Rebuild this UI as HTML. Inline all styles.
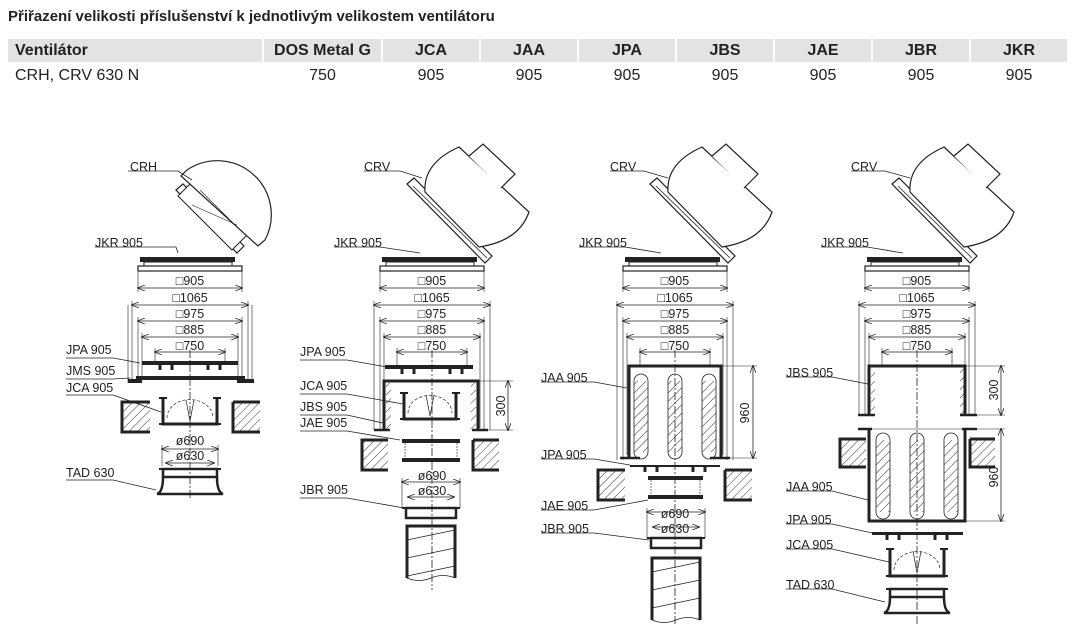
<!DOCTYPE html>
<html><head><meta charset="utf-8"><style>
html,body{margin:0;padding:0;background:#fff;width:1074px;height:633px;overflow:hidden}
body{font-family:"Liberation Sans",Arial,sans-serif;position:relative}
.t{position:absolute;left:8px;top:8px;font-size:15px;font-weight:bold;color:#222}
.h{position:absolute;top:39px;height:23px;background:#e3e3e3;font-size:16px;font-weight:bold;color:#222;line-height:23px;text-align:center}
.d{position:absolute;top:65px;height:22px;font-size:16px;color:#222;line-height:22px;text-align:center}
svg{position:absolute;left:0;top:0}
svg text{font-family:"Liberation Sans","DejaVu Sans",sans-serif;font-size:12.5px;fill:#222}
</style></head><body>
<div class="t">Přiřazení velikosti příslušenství k jednotlivým velikostem ventilátoru</div>
<div class="h" style="left:8px;width:254px;text-align:left;padding-left:7px;box-sizing:border-box">Ventilátor</div>
<div class="h" style="left:264px;width:117px">DOS Metal G</div>
<div class="h" style="left:383px;width:96px">JCA</div>
<div class="h" style="left:481px;width:96px">JAA</div>
<div class="h" style="left:579px;width:96px">JPA</div>
<div class="h" style="left:677px;width:96px">JBS</div>
<div class="h" style="left:775px;width:96px">JAE</div>
<div class="h" style="left:873px;width:96px">JBR</div>
<div class="h" style="left:971px;width:96px">JKR</div>
<div class="d" style="left:15px;width:240px;text-align:left">CRH, CRV 630 N</div>
<div class="d" style="left:264px;width:117px">750</div>
<div class="d" style="left:383px;width:96px">905</div>
<div class="d" style="left:481px;width:96px">905</div>
<div class="d" style="left:579px;width:96px">905</div>
<div class="d" style="left:677px;width:96px">905</div>
<div class="d" style="left:775px;width:96px">905</div>
<div class="d" style="left:873px;width:96px">905</div>
<div class="d" style="left:971px;width:96px">905</div>
<svg id="s" width="1074" height="633" xmlns="http://www.w3.org/2000/svg">
<defs>
<pattern id="hp" width="6" height="6" patternUnits="userSpaceOnUse" patternTransform="rotate(45)"><line x1="0" y1="0" x2="0" y2="6" stroke="#333" stroke-width="1"/></pattern>
<marker id="ar" markerWidth="8" markerHeight="6" refX="7" refY="3" orient="auto-start-reverse" markerUnits="userSpaceOnUse"><path d="M0,0 L8,3 L0,6" fill="none" stroke="#222" stroke-width="0.8"/></marker>
</defs>
<g id="drawg"></g>
<text x="130" y="171">CRH</text><text x="95" y="247">JKR 905</text>
<text x="66" y="354">JPA 905</text><text x="66" y="375">JMS 905</text><text x="66" y="392">JCA 905</text><text x="66" y="477">TAD 630</text>
<text x="364" y="171">CRV</text><text x="334" y="247">JKR 905</text>
<text x="300" y="356">JPA 905</text><text x="300" y="390">JCA 905</text><text x="300" y="411">JBS 905</text><text x="300" y="427">JAE 905</text><text x="300" y="494">JBR 905</text>
<text x="610" y="171">CRV</text><text x="579" y="247">JKR 905</text>
<text x="541" y="382">JAA 905</text><text x="541" y="459">JPA 905</text><text x="541" y="510">JAE 905</text><text x="541" y="533">JBR 905</text>
<text x="851" y="171">CRV</text><text x="821" y="247">JKR 905</text>
<text x="786" y="377">JBS 905</text><text x="786" y="491">JAA 905</text><text x="786" y="524">JPA 905</text><text x="786" y="549">JCA 905</text><text x="786" y="589">TAD 630</text>
<g text-anchor="middle">
<text x="190" y="285">□905</text><text x="190" y="302">□1065</text><text x="190" y="318">□975</text><text x="190" y="334">□885</text><text x="190" y="350">□750</text>
<text x="190" y="445">ø690</text><text x="190" y="460">ø630</text>
<text x="432" y="285">□905</text><text x="432" y="302">□1065</text><text x="432" y="318">□975</text><text x="432" y="334">□885</text><text x="432" y="350">□750</text>
<text x="432" y="480">ø690</text><text x="432" y="495">ø630</text>
<text x="675" y="285">□905</text><text x="675" y="302">□1065</text><text x="675" y="318">□975</text><text x="675" y="334">□885</text><text x="675" y="350">□750</text>
<text x="675" y="518">ø690</text><text x="675" y="533">ø630</text>
<text x="917" y="285">□905</text><text x="917" y="302">□1065</text><text x="917" y="318">□975</text><text x="917" y="334">□885</text><text x="917" y="350">□750</text>
</g>
<text transform="translate(505,406) rotate(-90)" text-anchor="middle">300</text>
<text transform="translate(749,413) rotate(-90)" text-anchor="middle">960</text>
<text transform="translate(998,390) rotate(-90)" text-anchor="middle">300</text>
<text transform="translate(998,477) rotate(-90)" text-anchor="middle">960</text>
</svg>
<script>
(function(){
var G=document.getElementById('drawg'),NS='http://www.w3.org/2000/svg';
function el(t,a){var e=document.createElementNS(NS,t);for(var k in a)e.setAttribute(k,a[k]);G.appendChild(e);return e;}
function L(x1,y1,x2,y2,w,extra){var a={x1:x1,y1:y1,x2:x2,y2:y2,stroke:'#222','stroke-width':w||0.8};for(var k in extra)a[k]=extra[k];return el('line',a);}
function R(x,y,w,h,sw,fill){return el('rect',{x:x,y:y,width:w,height:h,fill:fill||'none',stroke:sw?'#222':'none','stroke-width':sw||0});}
function P(d,sw,fill){return el('path',{d:d,fill:fill||'none',stroke:'#222','stroke-width':sw||1});}
function D(x1,x2,y){L(x1,y,x2,y,0.8,{'marker-start':'url(#ar)','marker-end':'url(#ar)'});}
function DV(x,y1,y2){L(x,y1,x,y2,0.8,{'marker-start':'url(#ar)','marker-end':'url(#ar)'});}
function C(x,y1,y2){L(x,y1,x,y2,0.8,{'stroke-dasharray':'8,2,2,2'});}
function lead(x1,y1,x2,y2,x0){L(x0,y1,x1,y1,0.8);L(x1,y1,x2,y2,0.8);}
function hatch(x,y,w,h){R(x,y,w,h,0,'url(#hp)');P('M'+(x+w)+','+y+' L'+x+','+y+' L'+x+','+(y+h)+' L'+(x+w)+','+(y+h),3);}
function hatchR(x,y,w,h){R(x,y,w,h,0,'url(#hp)');P('M'+x+','+y+' L'+(x+w)+','+y+' M'+x+','+y+' L'+x+','+(y+h)+' L'+(x+w)+','+(y+h),3);}
function crv(dx){
 P('M'+(650+dx)+',184 L'+(657+dx)+',178 L'+(735+dx)+',256 L'+(728+dx)+',263 Z',1.2,'#fff');
 L(656+dx,186,730+dx,258,0.8);
 P('M'+(668+dx)+',192 Q'+(666+dx)+',163 '+(702+dx)+',147 L'+(772+dx)+',212 Q'+(762+dx)+',241 '+(722+dx)+',247 Z',1.2,'#fff');
 P('M'+(712+dx)+',156 L'+(726+dx)+',144 L'+(758+dx)+',174 L'+(744+dx)+',188',1.2,'#fff');
}
function jkrTop(cx){
 R(cx-50,257,95,5,0,'#222');R(cx-46,262,88,4,1);R(cx-52,266,104,5,1.2);
 L(cx-52,271,cx-52,292,0.6);L(cx+52,271,cx+52,292,0.6);D(cx-52,cx+52,288);
}
function dims(cx,ybot){
 var ws=[58,52,48,35],ys=[305,321,337,352];
 for(var i=0;i<4;i++){D(cx-ws[i],cx+ws[i],ys[i]);L(cx-ws[i],ys[i]-4,cx-ws[i],ybot[i],0.6);L(cx+ws[i],ys[i]-4,cx+ws[i],ybot[i],0.6);}
}
function teeth(cx,y){[-30,-18,18,30].forEach(function(o){R(cx+o-1.5,y,3,5,0,'#222');});}
function jca(x1,x2,y1,y2){
 P('M'+x1+','+y1+' L'+x1+','+y2+' L'+x2+','+y2+' L'+x2+','+y1,3);
 L(x1-4,y1,x1+4,y1,2);L(x2-4,y1,x2+4,y1,2);L(x1-4,y2,x1+4,y2,2);L(x2-4,y2,x2+4,y2,2);
 var cx=(x1+x2)/2,r=(x2-x1)/2-4;
 P('M'+(cx-r)+','+(y2-6)+' A'+r+','+(r*0.8)+' 0 0 1 '+(cx+r)+','+(y2-6),0.7).setAttribute('stroke-dasharray','3,2');
 P('M'+(cx-4)+','+(y1+2)+' L'+cx+','+(y2-3)+' L'+(cx+4)+','+(y1+2),0.7);
}
function tad(x1,x2,y1,y2){
 R(x1,y1,x2-x1,8,2.5);L(x1-4,y1,x1+4,y1,2);L(x2-4,y1,x2+4,y1,2);
 P('M'+x1+','+(y1+8)+' Q'+x1+','+(y2-2)+' '+(x1-6)+','+y2+' L'+(x2+6)+','+y2+' Q'+x2+','+(y2-2)+' '+x2+','+(y1+8),2.5);
}
function jbr(x1,x2,y){R(x1,y,x2-x1,10,2.5);L(x1-4,y,x2+4,y,2);D(x1-4,x2+4,y-26);D(x1+2,x2-2,y-11);L(x1-4,y-30,x1-4,y,0.6);L(x2+4,y-30,x2+4,y,0.6);}
function duct(x1,x2,y1,y2){
 P('M'+x1+','+y2+' L'+x1+','+y1+' L'+x2+','+y1+' L'+x2+','+y2,3);
 P('M'+x1+','+y2+' q'+((x2-x1)/4)+',5 '+((x2-x1)/2)+',0 t'+((x2-x1)/2)+',0',0.8);
 for(var k=0;k<3;k++)L(x1,y1+14+k*18,x2,y1+4+k*18,0.8);
}
function jae(x1,x2,y1,y2){R(x1,y1,x2-x1,4,0,'#222');R(x1,y2,x2-x1,4,0,'#222');L(x1+3,y1+4,x1+3,y2,0.6,{'stroke-dasharray':'2,1'});L(x2-3,y1+4,x2-3,y2,0.6,{'stroke-dasharray':'2,1'});}
function slots(cx,y1,y2){[-34,0,34].forEach(function(o){var x=cx+o-7;R(x,y1+6,14,y2-y1-12,0,'url(#hp)');P('M'+x+','+(y1+6)+' L'+x+','+(y2-6)+' A7,7 0 0 0 '+(x+14)+','+(y2-6)+' L'+(x+14)+','+(y1+6)+' A7,7 0 0 0 '+x+','+(y1+6)+'Z',0.8);});}

// Diagram 1
P('M176,190 L183,184 L244,246 L237,253 Z',1.2,'#fff');
P('M178,196 L198,176 L252,230 L232,250 Z',1,'#fff');
P('M187,170 A54,54 0 0 1 265,240 L258,246 L181,176 Z',1.2,'#fff');
L(192,205,237,225,0.6);L(200,190,240,230,0.6);
lead(178,171,192,180,128);lead(176,247,178,253,95);
jkrTop(190);C(190,350,500);
dims(190,[382,382,377,362]);
R(142,361,96,4,0,'#222');teeth(190,365);
R(136,376,109,4,0,'#222');R(128,379,14,4,0,'#222');R(237,379,17,4,0,'#222');
L(128,305,128,383,0.6);L(252,305,252,383,0.6);
lead(113,358,140,363,66);lead(113,379,130,378,66);lead(113,395,161,412,66);
jca(163,217,398,424);
hatch(122,402,28,30);hatchR(233,402,27,30);
D(162,218,449);D(166,214,463);L(162,445,162,466,0.6);L(218,445,218,466,0.6);
tad(163,217,469,494);lead(113,480,156,490,66);

// Diagram 2
crv(-243);lead(400,171,422,178,364);lead(380,247,420,253,334);
jkrTop(432);C(432,350,590);
dims(432,[430,430,428,367]);
R(385,365,88,4,0,'#222');teeth(432,369);
P('M384,430 L384,381 L478,381 L478,430',3);R(386,383,5,46,0,'url(#hp)');R(471,383,5,46,0,'url(#hp)');
L(374,430,390,430,2.5);L(472,430,488,430,2.5);
L(478,381,513,381,0.6);DV(508,381,430);L(478,430,513,430,0.6);
jca(404,456,393,419);
lead(347,360,387,367,300);lead(347,394,403,404,300);lead(347,415,383,423,300);lead(347,431,400,440,300);
hatch(362,440,26,30);hatchR(473,440,26,30);
jae(402,460,439,458);
jbr(406,456,508);lead(347,498,404,508,300);
duct(407,455,526,578);

// Diagram 3
crv(0);lead(644,171,668,178,610);lead(625,247,661,253,579);
jkrTop(675);C(675,350,625);
dims(675,[460,460,455,366]);
P('M629,458 L629,366 L721,366 L721,458',3);L(620,458,640,458,2.5);L(710,458,730,458,2.5);
slots(675,375,458);
L(721,366,757,366,0.6);DV(753,366,458);L(721,458,757,458,0.6);
lead(594,382,627,388,541);
R(630,465,90,2,0,'#222');teeth(675,467);lead(594,459,630,465,541);
hatch(598,470,27,30);hatchR(725,470,27,30);
jae(648,703,476,495);lead(594,510,648,500,541);
jbr(651,701,538);lead(594,533,649,540,541);
duct(652,700,558,620);

// Diagram 4
crv(242);lead(885,171,910,178,851);lead(867,247,903,253,821);
jkrTop(917);C(917,350,625);
dims(917,[415,415,415,366]);
P('M869,415 L869,366 L965,366 L965,415',3);R(871,368,4,46,0,'url(#hp)');R(960,368,4,46,0,'url(#hp)');
L(858,415,875,415,2.5);L(960,415,977,415,2.5);
L(965,366,1005,366,0.6);DV(1001,366,415);L(965,415,1005,415,0.6);
lead(832,377,868,384,786);
P('M869,429 L869,521 L965,521 L965,429',3);L(858,429,872,429,2.5);L(962,429,977,429,2.5);L(869,429,965,429,0.6);
slots(917,434,518);
L(965,429,1005,429,0.6);DV(1001,429,521);L(965,521,1005,521,0.6);
hatch(840,439,26,28);hatchR(970,439,25,28);
lead(832,491,868,500,786);
R(872,532,91,3,0,'#222');teeth(917,535);lead(832,524,872,533,786);
jca(890,944,549,576);lead(832,549,889,562,786);
tad(890,944,589,613);lead(832,589,885,602,786);
})();
</script>
</body></html>
